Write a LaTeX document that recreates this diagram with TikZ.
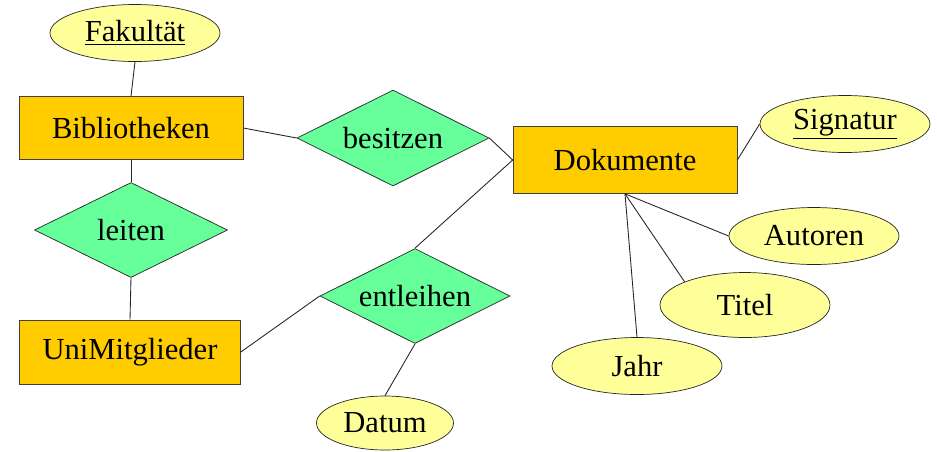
\documentclass[tikz,border=0pt]{standalone}
\usepackage{fontspec}
\setmainfont{Liberation Serif}
\definecolor{entorange}{RGB}{255, 204, 0}
\definecolor{relgreen}{RGB}{102, 255, 153}
\definecolor{attyellow}{RGB}{255, 255, 153}
\usepackage{tikz}
\usetikzlibrary{shapes.geometric, positioning}

\begin{document}
\begin{tikzpicture}[x=0.02cm, y=-0.02cm,
  entity/.style={draw=black!75, fill=entorange, inner sep=0pt, font=\fontsize{17.4}{20}\selectfont},
  relation/.style={diamond, aspect=2, draw=black!85, fill=relgreen, inner sep=0pt, font=\fontsize{17.4}{20}\selectfont},
  attrib/.style={ellipse, draw=black!85, fill=attyellow, inner sep=0pt, font=\fontsize{17.4}{20}\selectfont},
  link/.style={draw=black!85, line width=0.5pt}]
  \useasboundingbox (0,0) rectangle (937,451);

  % Entities
  \node[entity, minimum width=4.48cm, minimum height=1.26cm] (bib) at (131, 128) {Bibliotheken};
  \node[entity, minimum width=4.48cm, minimum height=1.34cm] (dok) at (625, 160) {Dokumente};
  \node[entity, minimum width=4.42cm, minimum height=1.28cm] (uni) at (130, 352) {UniMitglieder};

  % Relations
  \node[relation, minimum width=3.84cm, minimum height=1.92cm] (bes) at (393, 138) {besitzen};
  \node[relation, minimum width=3.86cm, minimum height=1.90cm] (lei) at (131, 230) {leiten};
  \node[relation, minimum width=3.80cm, minimum height=1.90cm] (ent) at (415, 296) {entleihen};

  % Attributes
  \node[attrib, minimum width=3.40cm, minimum height=1.14cm] (fak) at (135, 33) {\underline{Fakultät}};
  \node[attrib, minimum width=3.40cm, minimum height=1.14cm] (sig) at (845, 124) {\underline{Signatur}};
  \node[attrib, minimum width=3.40cm, minimum height=1.14cm] (aut) at (814, 236) {Autoren};
  \node[attrib, minimum width=3.40cm, minimum height=1.30cm] (tit) at (745, 305) {Titel};
  \node[attrib, minimum width=3.40cm, minimum height=1.14cm] (jah) at (637, 366) {Jahr};
  \node[attrib, minimum width=2.74cm, minimum height=1.08cm] (dat) at (385, 423) {Datum};

  % Connectors
  \draw[link] (fak.south) -- (bib.north);
  \draw[link] (bib.east) -- (bes.west);
  \draw[link] (bes.east) -- (dok.west);
  \draw[link] (bib.south) -- (lei.north);
  \draw[link] (lei.south) -- (uni.north);
  \draw[link] (uni.east) -- (ent.west);
  \draw[link] (ent.north) -- (dok.west);
  \draw[link] (ent.south) -- (dat.north);
  \draw[link] (dok.east) -- (sig.west);
  \draw[link] (dok.south) -- (aut.west);
  \draw[link] (dok.south) -- (tit.159);
  \draw[link] (dok.south) -- (jah.north);
\end{tikzpicture}
\end{document}
